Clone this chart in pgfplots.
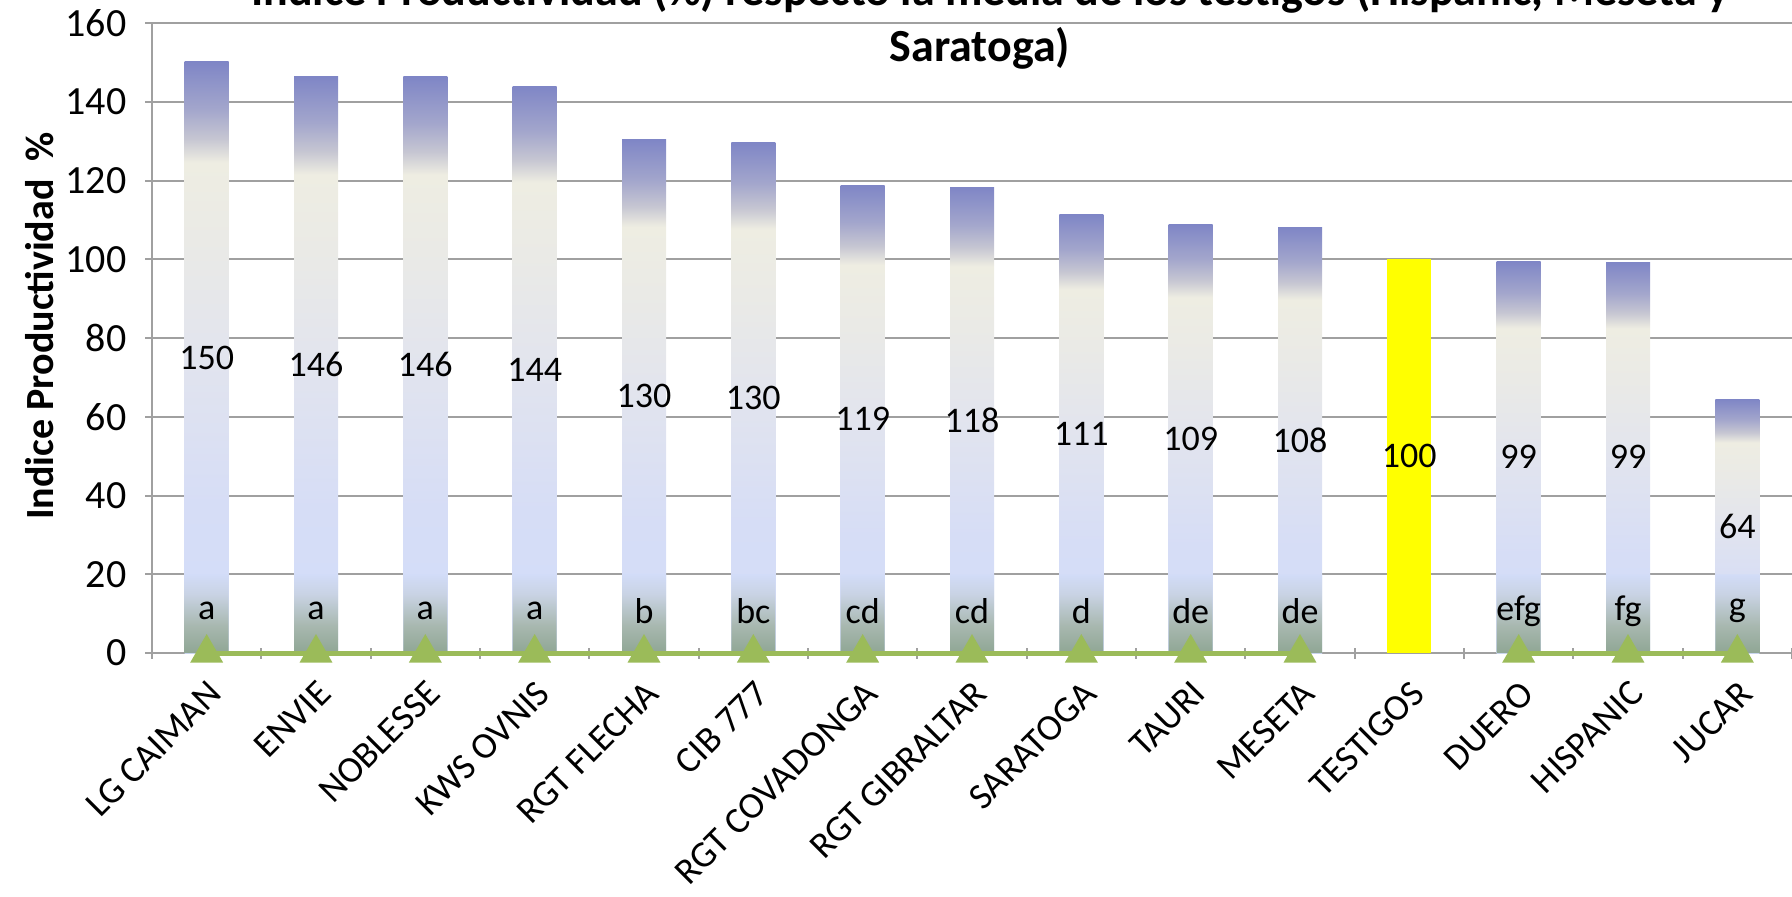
\documentclass[border=0pt]{standalone}
\usepackage{fontspec}
\setmainfont{Carlito}
\usepackage{pgfplots}
\usepackage{pgfplotstable}
\pgfplotsset{compat=1.18}

\definecolor{gridgray}{HTML}{A0A0A0}
\definecolor{bTop}{HTML}{7F86C6}
\definecolor{bT2}{HTML}{A3A6CC}
\definecolor{bGray}{HTML}{C6C6D2}
\definecolor{bCream}{HTML}{EEEDE2}
\definecolor{bCream2}{HTML}{EAEAE6}
\definecolor{bMid}{HTML}{E3E5ED}
\definecolor{bL2}{HTML}{D6DDF6}
\definecolor{bLow}{HTML}{D2DCFA}
\definecolor{gTop}{HTML}{D2DCF8}
\definecolor{gM2}{HTML}{C9D3E4}
\definecolor{gM1}{HTML}{A8B8B0}
\definecolor{gBot}{HTML}{8FA694}
\definecolor{lineGreen}{HTML}{9BBB59}
\definecolor{testyellow}{HTML}{FFFF00}

\pgfdeclareverticalshading{barshade}{100bp}{%
  color(0bp)=(bLow); color(25bp)=(bLow); color(37.5bp)=(bL2);
  color(51.5bp)=(bMid); color(60bp)=(bCream2); color(66.5bp)=(bCream);
  color(68.5bp)=(bGray); color(71bp)=(bT2); color(75bp)=(bTop); color(100bp)=(bTop)}
\pgfdeclareverticalshading{baseshade}{100bp}{%
  color(0bp)=(gBot); color(25bp)=(gBot); color(42.5bp)=(gM1);
  color(62.5bp)=(gM2); color(75bp)=(gTop); color(100bp)=(gTop)}

\pgfplotstableread{
x y lab
0 75.0 150
1 73.2 146
2 73.2 146
3 72.0 144
4 65.2 130
5 64.9 130
6 59.4 119
7 59.2 118
8 55.6 111
9 54.4 109
10 54.0 108
11 50.0 100
12 49.7 99
13 49.7 99
14 32.2 64
}\vallabels

\pgfplotstableread{
x y lab
0 10.7 a
1 10.7 a
2 10.7 a
3 10.7 a
4 10.7 b
5 10.7 bc
6 10.7 cd
7 10.7 cd
8 10.7 d
9 10.7 de
10 10.7 de
12 10.7 efg
13 10.7 fg
14 10.7 g
}\letters

\pgfplotstableread{
x y
0 0
1 0
2 0
3 0
4 0
5 0
6 0
7 0
8 0
9 0
10 0
11 nan
12 0
13 0
14 0
}\zeroline

\pgfplotsset{
  mybar/.style={ybar, bar width=22pt, bar shift=0pt, draw=none, shading=barshade},
}

\begin{document}
\begin{tikzpicture}[x=1pt,y=1pt]
\useasboundingbox (0,0) rectangle (896,448);
\begin{axis}[
  at={(76pt,121.5pt)}, anchor=south west,
  scale only axis, width=820pt, height=315pt,
  xmin=-0.5, xmax=14.5, ymin=0, ymax=160,
  ytick={0,20,...,160},
  xtick={0,...,14},
  xticklabels={LG CAIMAN, ENVIE, NOBLESSE, KWS OVNIS, RGT FLECHA, CIB 777, RGT COVADONGA, RGT GIBRALTAR, SARATOGA, TAURI, MESETA, TESTIGOS, DUERO, HISPANIC, JUCAR},
  minor xtick={-0.5,0.5,...,14.5},
  major x tick style={draw=none},
  minor x tick style={draw=gridgray, line width=1pt},
  minor tick length=5.5pt,
  major tick length=6.5pt,
  tick align=outside,
  axis x line=bottom, axis y line=left,
  axis line style={-, draw=gridgray, line width=1pt},
  ymajorgrids, grid style={draw=gridgray, line width=1pt},
  y tick style={draw=gridgray, line width=1pt},
  /pgf/number format/assume math mode=true,
  yticklabel style={font=\fontsize{20}{22}\selectfont, xshift=-6pt},
  xticklabel style={font=\fontsize{18.5}{20}\selectfont, rotate=45, anchor=north east, inner sep=0pt},
  xticklabel shift=9.5pt,
  clip=false,
]
\addplot[mybar] coordinates {(0,150.1)};
\addplot[mybar] coordinates {(1,146.4)};
\addplot[mybar] coordinates {(2,146.3)};
\addplot[mybar] coordinates {(3,144.0)};
\addplot[mybar] coordinates {(4,130.4)};
\addplot[mybar] coordinates {(5,129.7)};
\addplot[mybar] coordinates {(6,118.8)};
\addplot[mybar] coordinates {(7,118.3)};
\addplot[mybar] coordinates {(8,111.3)};
\addplot[mybar] coordinates {(9,108.8)};
\addplot[mybar] coordinates {(10,108.1)};
\addplot[ybar, bar width=22pt, bar shift=0pt, draw=none, fill=testyellow] coordinates {(11,100)};
\addplot[mybar] coordinates {(12,99.4)};
\addplot[mybar] coordinates {(13,99.3)};
\addplot[mybar] coordinates {(14,64.4)};
% base band
\addplot[ybar, bar width=22pt, bar shift=0pt, draw=none, shading=baseshade] coordinates {(0,20)(1,20)(2,20)(3,20)(4,20)(5,20)(6,20)(7,20)(8,20)(9,20)(10,20)(12,20)(13,20)(14,20)};
% value labels
\addplot[only marks, mark=none, nodes near coords, point meta=explicit symbolic,
  nodes near coords style={anchor=center, text=black, inner sep=0pt, font=\fontsize{18}{20}\selectfont}]
  table[x=x, y=y, meta=lab] {\vallabels};
% letters
\addplot[only marks, mark=none, nodes near coords, point meta=explicit symbolic,
  nodes near coords style={anchor=center, text=black, inner sep=0pt, font=\fontsize{18}{20}\selectfont}]
  table[x=x, y=y, meta=lab] {\letters};
% zero line
\addplot[color=lineGreen, line width=2.5pt, mark=triangle*, mark size=7pt,
  mark options={solid, fill=lineGreen, draw=none}, unbounded coords=jump]
  table[x=x, y=y] {\zeroline};
\end{axis}
\node[rotate=90, font=\bfseries\fontsize{20}{24}\selectfont] at (20,285) {Indice Productividad\ \ \%};
\node[font=\bfseries\fontsize{23}{28}\selectfont, anchor=base] at (495,445) {Indice Productividad (\%) respecto la media de los testigos (Hispanic, Meseta y};
\node[font=\bfseries\fontsize{23}{28}\selectfont, anchor=base] at (490,417) {Saratoga)};
\end{tikzpicture}
\end{document}
